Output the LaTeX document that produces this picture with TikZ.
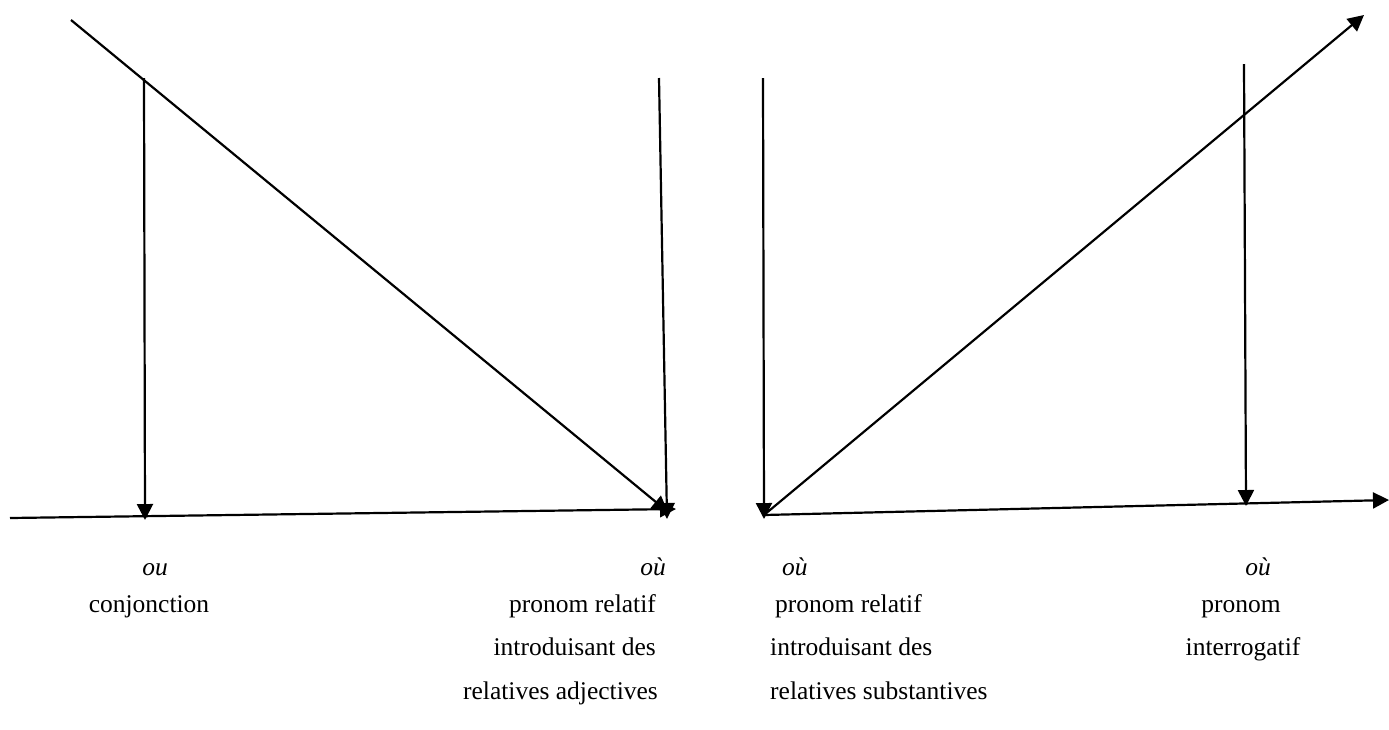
\documentclass[tikz,border=0pt]{standalone}
\usepackage{fontspec}
\setmainfont{Liberation Serif}
\usetikzlibrary{arrows.meta}
\begin{document}
\begin{tikzpicture}[x=1pt,y=-1pt,
  ln/.style={line width=2.2pt},
  arr/.style={ln,-{Triangle[length=16pt,width=16pt]}},
  lbl/.style={font=\fontsize{25.5}{30}\selectfont,inner sep=0pt},
  lbi/.style={lbl,font=\fontsize{25.5}{30}\selectfont\itshape}]
\useasboundingbox (0,0) rectangle (1389,729);
% left part
\coordinate (d1s) at (71,20);
\coordinate (d1e) at (668,512);
\coordinate (v1s) at (144,78);
\coordinate (v1e) at (145,520);
\coordinate (h1s) at (10,518);
\coordinate (h1e) at (676,509);
\coordinate (v2s) at (659,78);
\coordinate (v2e) at (667,519);
\draw[arr] (d1s) -- (d1e);
\draw[arr] (v1s) -- (v1e);
\draw[arr] (h1s) -- (h1e);
\draw[arr] (v2s) -- (v2e);
% right part
\coordinate (v3s) at (763,78);
\coordinate (v3e) at (764,519);
\coordinate (o2) at (764,515);
\coordinate (d2e) at (1364,15);
\coordinate (h2e) at (1389,500);
\coordinate (v4s) at (1244,64);
\coordinate (v4e) at (1246,506);
\draw[arr] (v3s) -- (v3e);
\draw[arr] (o2) -- (d2e);
\draw[arr] (o2) -- (h2e);
\draw[arr] (v4s) -- (v4e);
% labels
\node[lbi,anchor=base] (t1) at (155,575) {ou};
\node[lbl,anchor=base] (t2) at (149,612) {conjonction};
\node[lbi,anchor=base east] (t3) at (666,575) {où};
\node[lbl,anchor=base east] (t4) at (656,612) {pronom relatif};
\node[lbl,anchor=base east] (t5) at (656,655) {introduisant\ des};
\node[lbl,anchor=base east] (t6) at (658,699) {relatives adjectives};
\node[lbi,anchor=base west] (t7) at (782,575) {où};
\node[lbl,anchor=base west] (t8) at (775,612) {pronom relatif};
\node[lbl,anchor=base west] (t9) at (770,655) {introduisant des};
\node[lbl,anchor=base west] (t10) at (770,699) {relatives substantives};
\node[lbi,anchor=base] (t11) at (1258,575) {où};
\node[lbl,anchor=base] (t12) at (1241,612) {pronom};
\node[lbl,anchor=base] (t13) at (1243,655) {interrogatif};
\end{tikzpicture}
\end{document}
